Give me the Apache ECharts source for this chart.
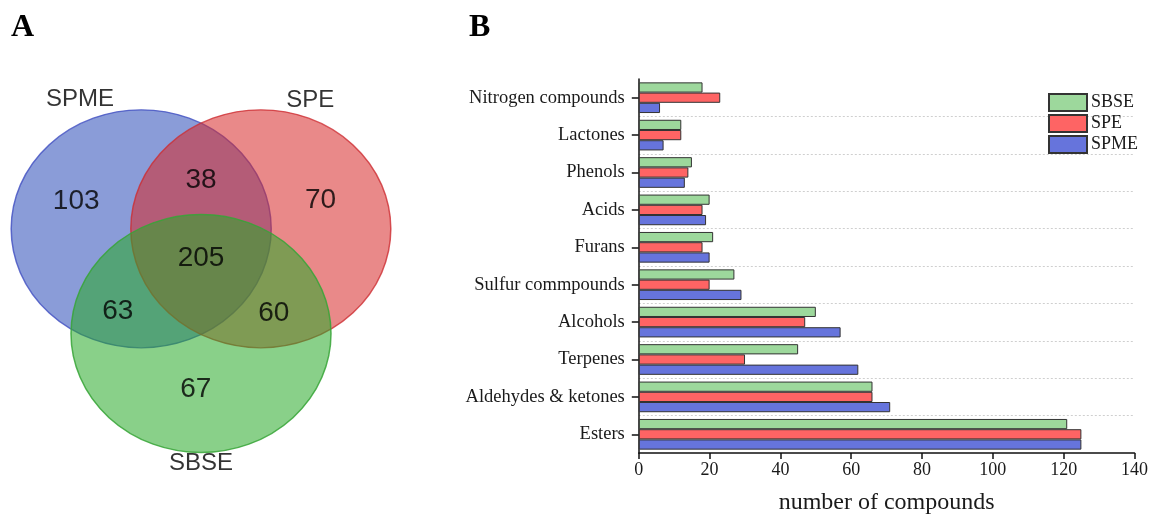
<!DOCTYPE html>
<html>
<head>
<meta charset="utf-8">
<title>Compounds by extraction method</title>
<script src="https://cdn.jsdelivr.net/npm/echarts@6/dist/echarts.min.js"></script>
<style>
  html, body { margin: 0; padding: 0; background: #ffffff; }
  #chart { width: 1151px; height: 520px; }
</style>
</head>
<body>
<div id="chart"></div>
<script>
// ---- Data ----
// Bar chart (panel B), categories listed bottom to top
const categories = ['Esters', 'Aldehydes & ketones', 'Terpenes', 'Alcohols', 'Sulfur commpounds',
  'Furans', 'Acids', 'Phenols', 'Lactones', 'Nitrogen compounds'];
const sbseCounts = [121, 66, 45, 50, 27, 21, 20, 15, 12, 18];
const speCounts  = [125, 66, 30, 47, 20, 18, 18, 14, 12, 23];
const spmeCounts = [125, 71, 62, 57, 29, 20, 19, 13, 7, 6];
const xMax = 140;
const xStep = 20;

// Venn diagram (panel A)
const setNames = ['SPME', 'SPE', 'SBSE'];
// regions: SPME only, SPE only, SBSE only, SPME∩SPE, SPME∩SBSE, SPE∩SBSE, all three
const vennCounts = [103, 70, 67, 38, 63, 60, 205];

// ---- Venn layout (unit circles in a hidden value grid) ----
const vennLayout = {
  centers: [[-0.46, 0.43], [0.46, 0.43], [0, -0.45]],
  namePos: [[-0.93, 1.52], [0.84, 1.51], [0, -1.54]],
  regionPos: [[-0.96, 0.66], [0.92, 0.67], [-0.04, -0.92], [0.0, 0.84], [-0.64, -0.26], [0.56, -0.28], [0.0, 0.18]],
  fills: ['rgba(60,90,190,0.6)', 'rgba(215,40,40,0.55)', 'rgba(40,170,40,0.55)'],
  strokes: ['rgba(70,85,195,0.85)', 'rgba(205,45,50,0.8)', 'rgba(55,165,55,0.85)']
};

const serif = '"Liberation Serif", "Times New Roman", serif';
const sans = '"Liberation Sans", Arial, sans-serif';
const colors = { SBSE: '#9dd89c', SPE: '#fe6464', SPME: '#6674dc' };

const chart = echarts.init(document.getElementById('chart'), null, { renderer: 'canvas' });

const barSeries = (name, values) => ({
  name: name,
  type: 'bar',
  xAxisIndex: 1,
  yAxisIndex: 1,
  data: values,
  barGap: '0%',
  barCategoryGap: '18%',
  itemStyle: { color: colors[name], borderColor: '#333333', borderWidth: 1 },
  emphasis: { disabled: true }
});

const vennText = (size) => ({
  show: true,
  position: 'inside',
  fontFamily: sans,
  fontSize: size,
  color: '#000',
  textBorderWidth: 0
});

const option = {
  animation: false,
  backgroundColor: '#ffffff',
  graphic: [
    { type: 'text', left: 11, top: 12, style: { text: 'A', font: 'bold 32px ' + serif, fill: '#000' } },
    { type: 'text', left: 469, top: 12, style: { text: 'B', font: 'bold 32px ' + serif, fill: '#000' } }
  ],
  legend: {
    data: ['SBSE', 'SPE', 'SPME'],
    orient: 'vertical',
    left: 1048,
    top: 93,
    icon: 'rect',
    itemWidth: 38,
    itemHeight: 17,
    itemGap: 2,
    padding: 0,
    selectedMode: false,
    textStyle: { fontFamily: serif, fontSize: 18, color: '#1a1a1a', padding: [0, 0, 0, -1] }
  },
  grid: [
    { left: 6, top: 89.6, width: 390, height: 380.8 },
    { left: 638.8, right: 15, top: 79, bottom: 64 }
  ],
  xAxis: [
    { gridIndex: 0, type: 'value', min: -1.5, max: 1.5, show: false },
    {
      gridIndex: 1,
      type: 'value',
      min: 0,
      max: xMax,
      interval: xStep,
      name: 'number of compounds',
      nameLocation: 'middle',
      nameGap: 38,
      nameTextStyle: { fontFamily: serif, fontSize: 24, color: '#1a1a1a' },
      axisLine: { show: true, lineStyle: { color: '#111', width: 1.5 } },
      axisTick: { show: true, length: 6, lineStyle: { color: '#111', width: 1.5 } },
      axisLabel: { fontFamily: serif, fontSize: 18, color: '#1a1a1a', margin: 8 },
      splitLine: { show: false }
    }
  ],
  yAxis: [
    { gridIndex: 0, type: 'value', min: -1.6, max: 1.6, show: false },
    {
      gridIndex: 1,
      type: 'category',
      data: categories,
      axisLine: { show: true, lineStyle: { color: '#111', width: 1.5 } },
      axisTick: { show: true, alignWithLabel: true, length: 7, lineStyle: { color: '#111', width: 1.5 } },
      axisLabel: { fontFamily: serif, fontSize: 18.5, color: '#1a1a1a', margin: 14 },
      splitLine: { show: true, showMaxLine: false, showMinLine: false, lineStyle: { color: '#cfcfcf', type: [2, 2], width: 1 } }
    }
  ],
  series: [
    {
      type: 'custom',
      xAxisIndex: 0,
      yAxisIndex: 0,
      silent: true,
      data: vennLayout.centers.map((c, i) => [c[0], c[1], i]),
      renderItem: function (params, api) {
        const i = api.value(2);
        const p = api.coord([api.value(0), api.value(1)]);
        const rx = Math.abs(api.size([1, 0])[0]);
        const ry = Math.abs(api.size([0, 1])[1]);
        return {
          type: 'circle',
          x: p[0],
          y: p[1],
          scaleX: 1,
          scaleY: ry / rx,
          shape: { cx: 0, cy: 0, r: rx },
          style: { fill: vennLayout.fills[i], stroke: vennLayout.strokes[i], lineWidth: 1.5 }
        };
      }
    },
    {
      type: 'scatter',
      xAxisIndex: 0,
      yAxisIndex: 0,
      silent: true,
      symbolSize: 0,
      data: vennLayout.regionPos.map((p, i) => ({ value: [p[0], p[1], vennCounts[i]] })),
      label: Object.assign(vennText(28), { formatter: (d) => String(d.value[2]) })
    },
    {
      type: 'scatter',
      xAxisIndex: 0,
      yAxisIndex: 0,
      silent: true,
      symbolSize: 0,
      data: vennLayout.namePos.map((p, i) => ({ value: [p[0], p[1]], name: setNames[i] })),
      label: Object.assign(vennText(24), { formatter: (d) => d.name })
    },
    barSeries('SBSE', sbseCounts),
    barSeries('SPE', speCounts),
    barSeries('SPME', spmeCounts)
  ]
};

chart.setOption(option);
</script>
</body>
</html>
